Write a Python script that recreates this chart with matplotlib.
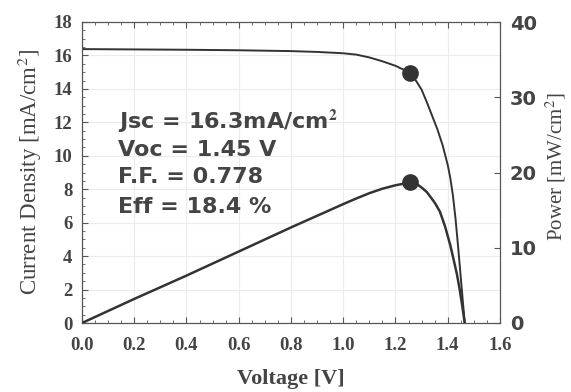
import matplotlib
matplotlib.use("Agg")
import matplotlib.pyplot as plt
from matplotlib.ticker import MultipleLocator

plt.rcParams['mathtext.fontset'] = 'stix'

# J-V curve
v_jv = [0.0, 0.2, 0.4, 0.6, 0.8, 0.9, 1.0, 1.05, 1.1, 1.15, 1.2, 1.257,
        1.28, 1.30, 1.32, 1.34, 1.36, 1.38, 1.40, 1.41, 1.42, 1.43, 1.44, 1.45, 1.458, 1.465]
j_jv = [16.38, 16.36, 16.34, 16.31, 16.26, 16.21, 16.13, 16.05, 15.88, 15.65, 15.38, 14.95,
        14.45, 13.95, 13.2, 12.4, 11.6, 10.65, 9.45, 8.65, 7.6, 6.2, 4.5, 2.7, 1.25, 0.0]

# Power curve
v_p = [0.0, 0.2, 0.4, 0.6, 0.8, 1.0, 1.05, 1.1, 1.15, 1.2, 1.257,
       1.28, 1.30, 1.32, 1.35, 1.37, 1.39, 1.41, 1.42, 1.435, 1.445, 1.455, 1.465]
p_p = [0.0, 3.2, 6.3, 9.5, 12.7, 15.8, 16.55, 17.25, 17.85, 18.3, 18.7,
       18.5, 18.0, 17.4, 16.0, 14.8, 12.8, 10.3, 8.8, 6.5, 4.6, 2.4, 0.0]

# maximum power point markers
mpp_v = [1.257]
mpp_j = [14.95]
mpp_p = [18.7]

annotations = ["Jsc = 16.3mA/cm$^{\\mathbf{2}}$", "Voc = 1.45 V", "F.F. = 0.778", "Eff = 18.4 %"]

xticks = [0.0, 0.2, 0.4, 0.6, 0.8, 1.0, 1.2, 1.4, 1.6]
yticks_left = [0, 2, 4, 6, 8, 10, 12, 14, 16, 18]
yticks_right = [0, 10, 20, 30, 40]

col = '#333333'
tcol = '#444444'
serif = 'Liberation Serif'
sans = 'DejaVu Sans'

fig = plt.figure(figsize=(5.71, 3.92), dpi=100)
ax = fig.add_axes([82/571, 1-323/392, (500-82)/571, (323-22)/392])
ax2 = ax.twinx()

ax.plot(v_jv, j_jv, color=col, lw=1.4, zorder=3)
ax.plot(mpp_v, mpp_j, 'o', color=col, ms=11, zorder=4)
ax2.plot(v_p, p_p, color=col, lw=1.8, zorder=3)
ax2.plot(mpp_v, mpp_p, 'o', color=col, ms=11, zorder=4)

ax.set_xlim(0, 1.6)
ax.set_ylim(0, 18)
ax2.set_ylim(0, 40)
ax.set_xticks(xticks)
ax.set_xticklabels([f"{t:.1f}" for t in xticks], fontfamily=serif, fontweight='bold', fontsize=13.5, color=tcol)
ax.set_yticks(yticks_left)
ax.set_yticklabels([str(t) for t in yticks_left], fontfamily=serif, fontweight='bold', fontsize=13.5, color=tcol)
ax2.set_yticks(yticks_right)
ax2.set_yticklabels([str(t) for t in yticks_right], fontfamily=sans, fontweight='bold', fontsize=14, color=tcol)

ax.xaxis.set_minor_locator(MultipleLocator(0.05))
ax.yaxis.set_minor_locator(MultipleLocator(0.5))
ax.tick_params(which='both', direction='in', top=True, right=False, color='#555555')
ax.tick_params(which='major', length=4)
ax.tick_params(which='minor', length=2)
ax.tick_params(axis='x', pad=10)
ax.tick_params(axis='y', pad=7)
ax2.tick_params(which='both', direction='in', length=4, color='#555555', pad=7)

ax.grid(True, color='#ececec', lw=0.8)
for s in list(ax.spines.values()) + list(ax2.spines.values()):
    s.set_color('#555555')

ax.set_xlabel('Voltage [V]', fontfamily=serif, fontweight='bold', fontsize=16, color=tcol, labelpad=11)
ax.set_ylabel('Current Density [mA/cm$^2$]', fontfamily=serif, fontsize=16.5, color=tcol, labelpad=7)
ax2.set_ylabel('Power [mW/cm$^2$]', fontfamily=serif, fontsize=15, color=tcol)
ax2.yaxis.set_label_coords(1.105, 0.52)

ys = [121, 150, 177, 207]
for txt, y in zip(annotations, ys):
    fig.text(118/571, 1-y/392, txt, fontfamily=sans, fontweight='bold', fontsize=16,
             color=tcol, va='center', ha='left')

fig.savefig('out.png', dpi=100)
